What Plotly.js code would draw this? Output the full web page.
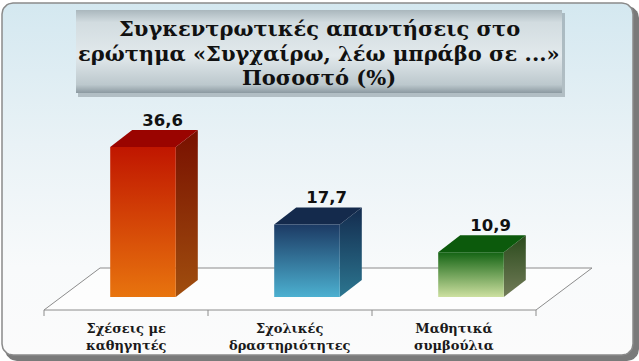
<!DOCTYPE html>
<html>
<head>
<meta charset="utf-8">
<script src="https://cdn.plot.ly/plotly-3.0.1.min.js"></script>
<style>html,body{margin:0;padding:0;background:#fff;}#chart{width:639px;height:361px;}</style>
</head>
<body>
<div id="chart"></div>
<script>
// ---- data ----
const categories = ['Σχέσεις με<br>καθηγητές', 'Σχολικές<br>δραστηριότητες', 'Μαθητικά<br>συμβούλια'];
const values = [36.6, 17.7, 10.9];
const valueLabels = ['36,6', '17,7', '10,9'];
const titleLines = ['Συγκεντρωτικές απαντήσεις στο', 'ερώτημα «Συγχαίρω, λέω μπράβο σε ...»', 'Ποσοστό (%)'];

// ---- styles ----
const frontTop = ['#c01600', '#1c3a64', '#146414'];
const frontBottom = ['#e8740e', '#4cb0d0', '#cde0a0'];
const sideTop = ['#781000', '#132b4e', '#2a4a1c'];
const sideBottom = ['#a04e0e', '#2c7690', '#727c58'];
const topColor = ['#9a0400', '#142a4c', '#0c5a0c'];

const W = 639, H = 361;
const PXX = 164, PXY = 4.1;          // px per x unit, px per y unit
const X0 = 143, Y0 = 297;            // pixel of data origin
const barW = 0.40;
const dX = 22 / PXX, dY = 17 / PXY;  // bar depth offsets
const catShift = -17 / PXX;
const floorFront = (Y0 - 310) / PXY, floorBack = (Y0 - 268) / PXY;
const floorDX = 56 / PXX;

const traces = [];

function roundRect(x0, y0, x1, y1, r) {
  const xs = [], ys = [];
  const corners = [[x1 - r, y0 + r, -90, 0], [x1 - r, y1 - r, 0, 90], [x0 + r, y1 - r, 90, 180], [x0 + r, y0 + r, 180, 270]];
  corners.forEach(c => {
    for (let k = 0; k <= 8; k++) {
      const a = (c[2] + (c[3] - c[2]) * k / 8) * Math.PI / 180;
      xs.push(c[0] + r * Math.cos(a)); ys.push(c[1] + r * Math.sin(a));
    }
  });
  xs.push(xs[0]); ys.push(ys[0]);
  return {x: xs, y: ys};
}

// ---- background (pixel axes x/y, y reversed) ----
let sh = roundRect(5, 6, 639, 361, 12);
traces.push({type: 'scatter', x: sh.x, y: sh.y, xaxis: 'x', yaxis: 'y', mode: 'lines', fill: 'toself',
  fillcolor: '#7a7a7a', line: {width: 0}, hoverinfo: 'skip', showlegend: false});
let bg = roundRect(2, 3, 633, 355, 11);
traces.push({type: 'scatter', x: bg.x, y: bg.y, xaxis: 'x', yaxis: 'y', mode: 'lines', fill: 'toself',
  fillcolor: '#eef5f8',
  fillgradient: {type: 'vertical', start: 355, stop: 3,
    colorscale: [[0, '#fbfbfb'], [0.25, '#f8fafb'], [0.6, '#e9f2f6'], [1, '#d4e8f0']]},
  line: {width: 1.5, color: '#8a8a8a'}, hoverinfo: 'skip', showlegend: false});

// title box shadow + box
traces.push({type: 'scatter', x: [78, 565, 565, 78, 78], y: [13, 13, 97, 97, 13], xaxis: 'x', yaxis: 'y', mode: 'lines',
  fill: 'toself', fillcolor: 'rgba(90,100,105,0.35)', line: {width: 0}, hoverinfo: 'skip', showlegend: false});
traces.push({type: 'scatter', x: [76, 562, 562, 76, 76], y: [10, 10, 93, 93, 10], xaxis: 'x', yaxis: 'y', mode: 'lines',
  fill: 'toself', fillcolor: '#dbe4e8',
  fillgradient: {type: 'vertical', start: 93, stop: 10,
    colorscale: [[0, '#8c9aa1'], [0.1, '#bcc8cd'], [0.45, '#e2e9ec'], [0.85, '#d2dce0'], [1, '#aab7bd']]},
  line: {width: 0}, hoverinfo: 'skip', showlegend: false});

// ---- floor (data axes x2/y2) ----
const n = values.length;
const fl = -0.5 + catShift, fr = n - 0.5 + catShift;
traces.push({type: 'scatter', xaxis: 'x2', yaxis: 'y2', mode: 'lines', fill: 'toself',
  x: [fl, fr, fr + floorDX, fl + floorDX, fl], y: [floorFront, floorFront, floorBack, floorBack, floorFront],
  fillcolor: 'rgba(255,255,255,0.6)', line: {width: 1, color: '#8c8c8c'}, hoverinfo: 'skip', showlegend: false});
const tx = [], ty = [];
for (let k = 0; k <= n; k++) {
  const xb = k - 0.5 + catShift;
  tx.push(xb, xb, null); ty.push(floorFront, floorFront - 6 / PXY, null);
}
traces.push({type: 'scatter', xaxis: 'x2', yaxis: 'y2', mode: 'lines', x: tx, y: ty,
  line: {width: 1, color: '#8c8c8c'}, hoverinfo: 'skip', showlegend: false});

// ---- 3D bars ----
values.forEach((v, i) => {
  const l = i - barW / 2, r = i + barW / 2;
  traces.push({type: 'scatter', xaxis: 'x2', yaxis: 'y2', mode: 'lines', fill: 'toself',
    x: [r, r + dX, r + dX, r, r], y: [0, dY, v + dY, v, 0],
    fillcolor: sideTop[i],
    fillgradient: {type: 'vertical', start: 0, stop: v + dY, colorscale: [[0, sideBottom[i]], [1, sideTop[i]]]},
    line: {width: 0}, hoverinfo: 'skip', showlegend: false});
  traces.push({type: 'scatter', xaxis: 'x2', yaxis: 'y2', mode: 'lines', fill: 'toself',
    x: [l, l + dX, r + dX, r, l], y: [v, v + dY, v + dY, v, v],
    fillcolor: topColor[i], line: {width: 0}, hoverinfo: 'skip', showlegend: false});
  traces.push({type: 'scatter', xaxis: 'x2', yaxis: 'y2', mode: 'lines', fill: 'toself',
    x: [l, r, r, l, l], y: [0, 0, v, v, 0],
    fillcolor: frontTop[i],
    fillgradient: {type: 'vertical', start: 0, stop: v, colorscale: [[0, frontBottom[i]], [1, frontTop[i]]]},
    line: {width: 0}, hoverinfo: 'skip', showlegend: false});
});

// value labels
traces.push({type: 'scatter', xaxis: 'x2', yaxis: 'y2', mode: 'text',
  x: values.map((v, i) => i + 0.12), y: values.map(v => v + dY),
  text: valueLabels, textposition: 'top center',
  textfont: {family: 'DejaVu Sans', size: 16.5, color: '#111', weight: 'bold'},
  hoverinfo: 'skip', showlegend: false});

const annotations = [];
const titleY = [28, 53, 78];
titleLines.forEach((t, k) => annotations.push({
  text: t, xref: 'paper', yref: 'paper', x: 319 / W, y: 1 - titleY[k] / H, xanchor: 'center', yanchor: 'middle',
  showarrow: false, font: {family: 'DejaVu Serif', size: 21, color: '#111', weight: 'bold'}
}));
categories.forEach((c, i) => annotations.push({
  text: c, xref: 'x2', yref: 'paper', x: i + catShift, y: 1 - 337 / H, xanchor: 'center', yanchor: 'middle',
  showarrow: false, font: {family: 'DejaVu Serif', size: 13, color: '#1a1a1a', weight: 'bold'}
}));

const hidden = {visible: false, showgrid: false, zeroline: false, fixedrange: true};
const layout = {
  width: W, height: H, margin: {l: 0, r: 0, t: 0, b: 0},
  paper_bgcolor: '#ffffff', plot_bgcolor: 'rgba(0,0,0,0)', showlegend: false,
  xaxis: Object.assign({range: [0, W], domain: [0, 1]}, hidden),
  yaxis: Object.assign({range: [H, 0], domain: [0, 1]}, hidden),
  xaxis2: Object.assign({range: [-X0 / PXX, (W - X0) / PXX], overlaying: 'x', anchor: 'y2'}, hidden),
  yaxis2: Object.assign({range: [-(H - Y0) / PXY, Y0 / PXY], overlaying: 'y', anchor: 'x2'}, hidden),
  annotations: annotations
};
Plotly.newPlot('chart', traces, layout, {staticPlot: true, displayModeBar: false});
</script>
</body>
</html>
